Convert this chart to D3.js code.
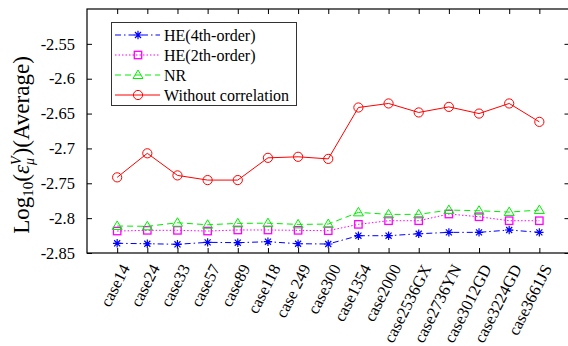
<!DOCTYPE html>
<html>
<head>
<meta charset="utf-8">
<script src="https://cdn.jsdelivr.net/npm/d3@7/dist/d3.min.js"></script>
<style>
html,body{margin:0;padding:0;background:#fff;}
svg{display:block;}
svg text{font-family:"Liberation Serif","Times New Roman",serif;}
</style>
</head>
<body>
<svg id="chart" width="568" height="346"></svg>
<script>
const categories = ["case14","case24","case33","case57","case89","case118","case 249","case300","case1354","case2000","case2536GX","case2736YN","case3012GD","case3224GD","case3661JS"];
const he4 = [-2.8361,-2.8367,-2.8375,-2.8347,-2.8352,-2.8338,-2.8367,-2.8371,-2.8252,-2.8252,-2.8224,-2.8204,-2.8204,-2.8170,-2.8204];
const he2 = [-2.8185,-2.8175,-2.8175,-2.8185,-2.8170,-2.8170,-2.8175,-2.8180,-2.8089,-2.8037,-2.8037,-2.7941,-2.7980,-2.8037,-2.8037];
const nr  = [-2.8113,-2.8117,-2.8066,-2.8095,-2.8075,-2.8072,-2.8090,-2.8085,-2.7917,-2.7946,-2.7946,-2.7884,-2.7894,-2.7913,-2.7884];
const woc = [-2.7415,-2.7070,-2.7387,-2.7454,-2.7454,-2.7135,-2.7120,-2.7150,-2.6413,-2.6355,-2.6484,-2.6404,-2.6500,-2.6355,-2.6619];
const yTicks = [-2.85,-2.8,-2.75,-2.7,-2.65,-2.6,-2.55];
const seriesNames = ["HE(4th-order)","HE(2th-order)","NR","Without correlation"];

const FONT = "Liberation Serif, Times New Roman, serif";
const svg = d3.select("#chart").attr("font-family", FONT);
const L = 87, R = 569.5, T = 9, B = 253;
const x = d3.scaleLinear().domain([-1, categories.length]).range([L, R]);
const y = d3.scaleLinear().domain([-2.85, -2.5]).range([B, T]);

const series = [
  {name: seriesNames[0], data: he4, color: "#0000ff", dash: "6,3,1.5,3", marker: "star"},
  {name: seriesNames[1], data: he2, color: "#ff00ff", dash: "1.5,2", marker: "square"},
  {name: seriesNames[2], data: nr,  color: "#00ee00", dash: "6,4", marker: "triangle"},
  {name: seriesNames[3], data: woc, color: "#ff0000", dash: null, marker: "circle"}
];

function drawMarker(g, type, cx, cy, color) {
  if (type === "circle") {
    g.append("circle").attr("cx", cx).attr("cy", cy).attr("r", 4.6)
      .attr("fill", "none").attr("stroke", color).attr("stroke-width", 1);
  } else if (type === "square") {
    g.append("rect").attr("x", cx - 3.7).attr("y", cy - 3.7).attr("width", 7.4).attr("height", 7.4)
      .attr("fill", "none").attr("stroke", color).attr("stroke-width", 1.3);
  } else if (type === "triangle") {
    const s = 5;
    g.append("path").attr("d", `M${cx},${cy - s}L${cx + s},${cy + s * 0.7}L${cx - s},${cy + s * 0.7}Z`)
      .attr("fill", "none").attr("stroke", color).attr("stroke-width", 1);
  } else if (type === "star") {
    const r = 4.2, d = r * 0.72;
    g.append("path").attr("d", `M${cx - r},${cy}L${cx + r},${cy}M${cx},${cy - r}L${cx},${cy + r}M${cx - d},${cy - d}L${cx + d},${cy + d}M${cx - d},${cy + d}L${cx + d},${cy - d}`)
      .attr("stroke", color).attr("stroke-width", 1.2).attr("fill", "none");
  }
}

// axes box
svg.append("rect").attr("x", L).attr("y", T).attr("width", R - L).attr("height", B - T)
  .attr("fill", "none").attr("stroke", "#000").attr("stroke-width", 1.2);

// y ticks (left and right, inward)
const yAxisL = d3.axisLeft(y).tickValues(yTicks).tickSizeInner(-5).tickSizeOuter(0).tickPadding(7).tickFormat(d => String(+d.toFixed(2)));
const gyl = svg.append("g").attr("transform", `translate(${L},0)`).call(yAxisL).attr("font-family", FONT);
gyl.select(".domain").remove();
gyl.selectAll("line").attr("stroke", "#000");
gyl.selectAll("text").attr("font-size", 16.5).attr("fill", "#000").attr("dx", "-5");
const yAxisR = d3.axisRight(y).tickValues(yTicks).tickSizeInner(-5).tickSizeOuter(0).tickFormat("");
const gyr = svg.append("g").attr("transform", `translate(${R},0)`).call(yAxisR);
gyr.select(".domain").remove();
gyr.selectAll("line").attr("stroke", "#000");

// x ticks (bottom and top, inward)
const xIdx = d3.range(categories.length);
const xAxisB = d3.axisBottom(x).tickValues(xIdx).tickSizeInner(-5).tickSizeOuter(0).tickFormat("");
const gxb = svg.append("g").attr("transform", `translate(0,${B})`).call(xAxisB);
gxb.select(".domain").remove();
gxb.selectAll("line").attr("stroke", "#000");
const xAxisT = d3.axisTop(x).tickValues(xIdx).tickSizeInner(-5).tickSizeOuter(0).tickFormat("");
const gxt = svg.append("g").attr("transform", `translate(0,${T})`).call(xAxisT);
gxt.select(".domain").remove();
gxt.selectAll("line").attr("stroke", "#000");

// x tick labels rotated
svg.append("g").attr("font-family", FONT).selectAll("text").data(categories).join("text")
  .attr("transform", (d, i) => `translate(${x(i) + 13},${B + 15}) rotate(-63)`)
  .attr("text-anchor", "end")
  .attr("font-size", 16.5)
  .attr("fill", "#000")
  .text(d => d);

// series
const line = d3.line().x((d, i) => x(i)).y(d => y(d));
series.forEach(s => {
  const p = svg.append("path").attr("d", line(s.data)).attr("fill", "none")
    .attr("stroke", s.color).attr("stroke-width", 1);
  if (s.dash) p.attr("stroke-dasharray", s.dash);
  const g = svg.append("g");
  s.data.forEach((v, i) => drawMarker(g, s.marker, x(i), y(v), s.color));
});

// legend
const lg = svg.append("g").attr("font-family", FONT);
lg.append("rect").attr("x", 111.5).attr("y", 22.5).attr("width", 185).attr("height", 83)
  .attr("fill", "#fff").attr("stroke", "#333").attr("stroke-width", 1);
series.forEach((s, i) => {
  const yy = 35 + i * 20;
  const p = lg.append("path").attr("d", `M115,${yy}L160,${yy}`).attr("stroke", s.color).attr("stroke-width", 1).attr("fill", "none");
  if (s.dash) p.attr("stroke-dasharray", s.dash);
  drawMarker(lg, s.marker, 138, yy, s.color);
  lg.append("text").attr("x", 164).attr("y", yy + 5.5).attr("font-size", 16).attr("fill", "#000").text(s.name);
});

// y label
const yl = svg.append("text").attr("transform", `translate(29,145) rotate(-90)`)
  .attr("text-anchor", "middle").attr("font-size", 23).attr("fill", "#000").attr("font-family", FONT);
yl.append("tspan").text("Log");
yl.append("tspan").attr("font-size", 15).attr("dy", 4).text("10");
yl.append("tspan").attr("dy", -4).text("(");
yl.append("tspan").attr("font-style", "italic").text("\u03b5");
yl.append("tspan").attr("font-style", "italic").attr("font-size", 14).attr("dy", 5).text("\u03bc");
yl.append("tspan").attr("font-style", "italic").attr("font-size", 14).attr("dy", -13).attr("dx", -7).text("V");
yl.append("tspan").attr("dy", 8).attr("dx", 1).text(")(Average)");
</script>
</body>
</html>
